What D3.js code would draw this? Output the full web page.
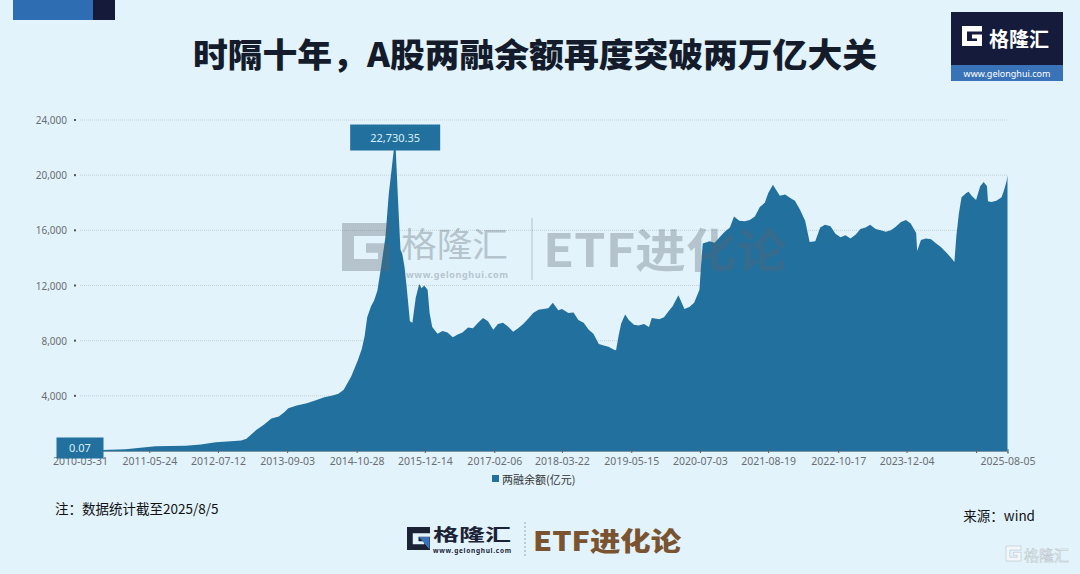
<!DOCTYPE html>
<html><head><meta charset="utf-8">
<script src="https://cdn.jsdelivr.net/npm/d3@7"></script>
<style>html,body{margin:0;padding:0;background:#e2f3fb;}svg{display:block}</style>
</head><body>
<svg id="c" width="1080" height="574"></svg>
<script>
const titleText = "时隔十年，A股两融余额再度突破两万亿大关";
const seriesName = "两融余额(亿元)";
const noteText = "注：数据统计截至2025/8/5";
const sourceText = "来源：wind";

const dates = ["2010-03-31","2010-06-30","2010-09-30","2010-12-31","2011-03-31","2011-06-30","2011-09-30","2011-12-30","2012-03-30","2012-06-29","2012-09-28","2012-11-30","2012-12-31","2013-02-28","2013-04-15","2013-05-31","2013-07-15","2013-08-20","2013-09-10","2013-10-31","2013-12-31","2014-02-28","2014-04-15","2014-05-30","2014-07-10","2014-08-11","2014-09-25","2014-11-05","2014-11-28","2014-12-15","2014-12-31","2015-01-23","2015-02-10","2015-03-02","2015-03-25","2015-04-20","2015-05-10","2015-05-29","2015-06-18","2015-07-08","2015-07-20","2015-07-31","2015-08-14","2015-08-28","2015-09-15","2015-09-30","2015-10-20","2015-11-10","2015-11-25","2015-12-10","2015-12-31","2016-01-12","2016-01-28","2016-02-29","2016-03-31","2016-04-29","2016-05-31","2016-06-30","2016-07-29","2016-08-31","2016-09-30","2016-10-31","2016-11-30","2016-12-30","2017-01-31","2017-02-28","2017-03-31","2017-04-28","2017-05-31","2017-06-30","2017-07-31","2017-08-31","2017-09-29","2017-10-31","2017-11-30","2017-12-29","2018-01-26","2018-02-28","2018-03-22","2018-04-30","2018-05-31","2018-06-29","2018-07-31","2018-08-31","2018-09-28","2018-10-31","2018-11-30","2018-12-28","2019-01-31","2019-02-12","2019-02-28","2019-03-15","2019-04-08","2019-04-30","2019-05-31","2019-06-28","2019-07-31","2019-08-30","2019-09-16","2019-10-31","2019-11-29","2019-12-31","2020-01-20","2020-02-24","2020-03-31","2020-04-30","2020-05-29","2020-06-30","2020-07-10","2020-07-20","2020-08-31","2020-09-30","2020-10-30","2020-11-30","2020-12-31","2021-01-25","2021-02-26","2021-03-31","2021-04-30","2021-05-31","2021-06-30","2021-07-30","2021-08-20","2021-09-17","2021-10-29","2021-11-30","2021-12-31","2022-01-28","2022-02-28","2022-03-31","2022-04-27","2022-05-31","2022-06-30","2022-07-29","2022-08-31","2022-09-30","2022-10-31","2022-11-30","2022-12-30","2023-01-31","2023-02-28","2023-03-31","2023-04-28","2023-05-31","2023-06-30","2023-07-31","2023-08-31","2023-09-28","2023-10-31","2023-11-30","2023-12-29","2024-01-31","2024-02-06","2024-02-29","2024-03-29","2024-04-30","2024-05-31","2024-06-28","2024-07-31","2024-08-30","2024-09-18","2024-09-30","2024-10-15","2024-10-31","2024-11-29","2024-12-13","2024-12-31","2025-01-27","2025-02-21","2025-03-14","2025-04-03","2025-04-09","2025-04-30","2025-05-30","2025-06-30","2025-07-15","2025-07-31","2025-08-05"];
const values = [0.07,60,95,127,230,340,370,382,480,640,700,760,895,1520,1900,2350,2500,2850,3100,3300,3465,3700,3900,4000,4150,4450,5400,6600,7400,8300,9700,10500,10900,11600,13350,15500,18600,20600,22730.35,17500,14600,14300,13300,11700,9400,9300,11100,12100,11800,12000,11700,10000,9000,8500,8700,8600,8250,8450,8600,8950,8900,9300,9650,9400,8800,9200,9300,9050,8650,8900,9200,9600,10000,10250,10300,10350,10750,10200,10300,10000,10050,9500,9300,8800,8500,7750,7650,7550,7350,7300,8400,9250,9900,9500,9150,9100,9200,9000,9650,9550,9700,10200,10500,11300,10300,10450,10750,11700,13500,15050,15200,15100,15500,15900,16200,17000,16700,16650,16750,17000,17700,18000,18700,19300,18500,18600,18350,18150,17500,16700,15150,15200,16200,16400,16300,15750,15500,15650,15400,15700,16100,16200,16400,16100,16000,15900,16000,16250,16600,16750,16500,15800,14500,15300,15400,15350,15050,14800,14400,14000,13700,15600,17200,18400,18700,18800,18500,18200,19200,19500,19200,18100,18050,18150,18400,18900,19600,20000];

const tickDates = ["2010-03-31","2011-05-24","2012-07-12","2013-09-03","2014-10-28","2015-12-14","2017-02-06","2018-03-22","2019-05-15","2020-07-03","2021-08-19","2022-10-17","2023-12-04","2025-01-27","2025-08-05"];
const tickLabels = ["2010-03-31","2011-05-24","2012-07-12","2013-09-03","2014-10-28","2015-12-14","2017-02-06","2018-03-22","2019-05-15","2020-07-03","2021-08-19","2022-10-17","2023-12-04","","2025-08-05"];
const yTicks = [4000,8000,12000,16000,20000,24000];
const peakLabel = "22,730.35";
const startLabel = "0.07";

const parse = d3.timeParse("%Y-%m-%d");
const data = dates.map((d,i)=>({date:parse(d), value:values[i]}));

const svg = d3.select("#c");
const W = 1080, H = 574;
const AREA = "#22709d";
const CJK = "'Noto Sans CJK SC','Noto Sans',sans-serif";
const LAT = "'Noto Sans','Open Sans',sans-serif";

svg.append("rect").attr("width",W).attr("height",H).attr("fill","#e2f3fb");

// top-left decoration
svg.append("rect").attr("x",13).attr("y",0).attr("width",80).attr("height",20).attr("fill","#2f6db3");
svg.append("rect").attr("x",93).attr("y",0).attr("width",22).attr("height",20).attr("fill","#151a3a");

// title
svg.append("text").attr("x",193).attr("y",53).attr("dominant-baseline","central")
  .attr("font-family",CJK).attr("font-weight",900).attr("font-size",33)
  .attr("textLength",684).attr("lengthAdjust","spacingAndGlyphs")
  .attr("fill","#141c2c").text(titleText);

// G icon helper
function gIcon(g, x, y, s, fill, accent){
  const pts = [[0,0],[1,0],[1,0.27],[0.25,0.27],[0.25,0.75],[0.75,0.75],[0.75,0.62],[0.5,0.62],[0.5,0.42],[1,0.42],[1,1],[0,1]];
  const p = g.append("path").attr("d", d3.line()(pts.map(p=>[x+p[0]*s, y+p[1]*s]))+"Z").attr("fill",fill);
  if(accent){
    const tri=[[0.52,0.44],[0.98,0.44],[0.98,0.98]];
    g.append("path").attr("d", d3.line()(tri.map(p=>[x+p[0]*s, y+p[1]*s]))+"Z").attr("fill",accent);
  }
  return p;
}

// top-right logo
const tl = svg.append("g");
tl.append("rect").attr("x",951).attr("y",12).attr("width",112).attr("height",53).attr("fill","#151b3a");
tl.append("rect").attr("x",951).attr("y",65).attr("width",112).attr("height",16).attr("fill","#3a72b7");
gIcon(tl, 962, 26, 20, "#ffffff", null);
tl.append("text").attr("x",1019).attr("y",38).attr("text-anchor","middle").attr("dominant-baseline","central")
  .attr("font-family",CJK).attr("font-weight",700).attr("font-size",20).attr("fill","#ffffff").text("格隆汇");
tl.append("text").attr("x",1007).attr("y",73.5).attr("text-anchor","middle").attr("dominant-baseline","central")
  .attr("font-family",LAT).attr("font-size",9).attr("fill","#ffffff").text("www.gelonghui.com");

// scales
const x = d3.scaleTime().domain([parse("2010-03-31"), parse("2025-08-05")]).range([80, 1007.5]);
const y = d3.scaleLinear().domain([0, 24000]).range([451, 120]);

// grid
svg.append("g").selectAll("line").data(yTicks).join("line")
  .attr("x1",80).attr("x2",1007.5).attr("y1",d=>y(d)).attr("y2",d=>y(d))
  .attr("stroke","#c3d0d6").attr("stroke-width",1).attr("stroke-dasharray","1,1");

// y labels
const ya = svg.append("g");
ya.selectAll("text").data(yTicks).join("text")
  .attr("x",67).attr("y",d=>y(d)).attr("text-anchor","end").attr("dominant-baseline","central")
  .attr("font-family",LAT).attr("font-size",10).attr("fill","#6a6e73").text(d=>d3.format(",")(d));
ya.selectAll("rect").data(yTicks).join("rect")
  .attr("x",74).attr("y",d=>y(d)-1).attr("width",2).attr("height",2).attr("fill","#555");

// area
const area = d3.area().x(d=>x(d.date)).y0(y(0)).y1(d=>y(d.value));
svg.append("path").datum(data).attr("d",area).attr("fill",AREA);

// x axis
const xa = svg.append("g").attr("transform",`translate(0,${y(0)})`)
  .call(d3.axisBottom(x).tickValues(tickDates.map(parse)).tickSize(3)
    .tickFormat((d,i)=>tickLabels[i]));
xa.select(".domain").attr("stroke","#7d96a4");
xa.selectAll(".tick line").attr("stroke","#55606a").attr("y1",-2).attr("y2",2);
xa.selectAll(".tick text").attr("font-family",LAT).attr("font-size",10.5).attr("fill","#6a6e73").attr("dy","0.55em").attr("y",8);

// watermark
const wm = svg.append("g").attr("opacity",0.33);
gIcon(wm, 342, 223, 48, "#5d6670", null);
wm.append("text").attr("x",401).attr("y",242).attr("dominant-baseline","central")
  .attr("font-family",CJK).attr("font-size",34).attr("textLength",107).attr("lengthAdjust","spacingAndGlyphs")
  .attr("fill","#5d6670").text("格隆汇");
wm.append("text").attr("x",406).attr("y",274.5).attr("dominant-baseline","central")
  .attr("font-family",LAT).attr("font-weight",700).attr("font-size",9).attr("textLength",102)
  .attr("fill","#5d6670").text("www.gelonghui.com");
wm.append("line").attr("x1",532).attr("x2",532).attr("y1",218).attr("y2",280).attr("stroke","#5d6670").attr("stroke-width",1);
wm.append("text").attr("x",543).attr("y",247).attr("dominant-baseline","central")
  .attr("font-family",CJK).attr("font-weight",700).attr("font-size",46).attr("textLength",244).attr("lengthAdjust","spacingAndGlyphs")
  .attr("fill","#5d6670").text("ETF进化论");

// annotations
const peak = data.reduce((a,b)=>b.value>a.value?b:a);
const pk = svg.append("g");
pk.append("rect").attr("x",x(peak.date)-45).attr("y",y(peak.value)-13).attr("width",90).attr("height",26).attr("fill",AREA);
pk.append("text").attr("x",x(peak.date)).attr("y",y(peak.value)).attr("text-anchor","middle").attr("dominant-baseline","central")
  .attr("font-family",LAT).attr("font-size",11).attr("fill","#d9eef9").text(peakLabel);
const st = data[0];
const sg = svg.append("g");
sg.append("rect").attr("x",x(st.date)-23.5).attr("y",y(st.value)-13.5).attr("width",47).attr("height",21).attr("fill",AREA);
sg.append("text").attr("x",x(st.date)).attr("y",y(st.value)-3).attr("text-anchor","middle").attr("dominant-baseline","central")
  .attr("font-family",LAT).attr("font-size",11).attr("fill","#d9eef9").text(startLabel);

// legend
svg.append("rect").attr("x",492).attr("y",475).attr("width",7).attr("height",7).attr("fill",AREA);
svg.append("text").attr("x",502).attr("y",478.5).attr("dominant-baseline","central")
  .attr("font-family",CJK).attr("font-size",11).attr("fill","#333").text(seriesName);

// notes
svg.append("text").attr("x",55).attr("y",508).attr("dominant-baseline","central")
  .attr("font-family",CJK).attr("font-size",13.5).attr("fill","#111").text(noteText);
svg.append("text").attr("x",1035).attr("y",515).attr("text-anchor","end").attr("dominant-baseline","central")
  .attr("font-family",CJK).attr("font-size",13.5).attr("fill","#111").text(sourceText);

// bottom logo
const bl = svg.append("g");
gIcon(bl, 407, 527, 23, "#1b2236", "#3a72b7");
bl.append("text").attr("x",433).attr("y",533).attr("dominant-baseline","central")
  .attr("font-family",CJK).attr("font-weight",700).attr("font-size",17).attr("textLength",78).attr("lengthAdjust","spacingAndGlyphs")
  .attr("fill","#1b2236").text("格隆汇");
bl.append("text").attr("x",433).attr("y",550.5).attr("dominant-baseline","central")
  .attr("font-family",LAT).attr("font-weight",700).attr("font-size",6.5).attr("textLength",78)
  .attr("fill","#1b2236").text("www.gelonghui.com");
bl.append("line").attr("x1",525).attr("x2",525).attr("y1",522).attr("y2",556).attr("stroke","#9aa4ab").attr("stroke-dasharray","2,2");
bl.append("text").attr("x",533).attr("y",539).attr("dominant-baseline","central")
  .attr("font-family",CJK).attr("font-weight",900).attr("font-size",26).attr("textLength",148).attr("lengthAdjust","spacingAndGlyphs")
  .attr("fill","#7a5331").text("ETF进化论");

// bottom-right watermark
const br = svg.append("g");
gIcon(br, 1006, 546, 15, "#f3f7f9", null).attr("stroke","#b9c3c9").attr("stroke-width",0.6);
br.append("text").attr("x",1024).attr("y",554).attr("dominant-baseline","central")
  .attr("font-family",CJK).attr("font-size",15).attr("fill","#f3f7f9").attr("stroke","#b9c3c9").attr("stroke-width",0.5)
  .text("格隆汇");
</script>
</body></html>
